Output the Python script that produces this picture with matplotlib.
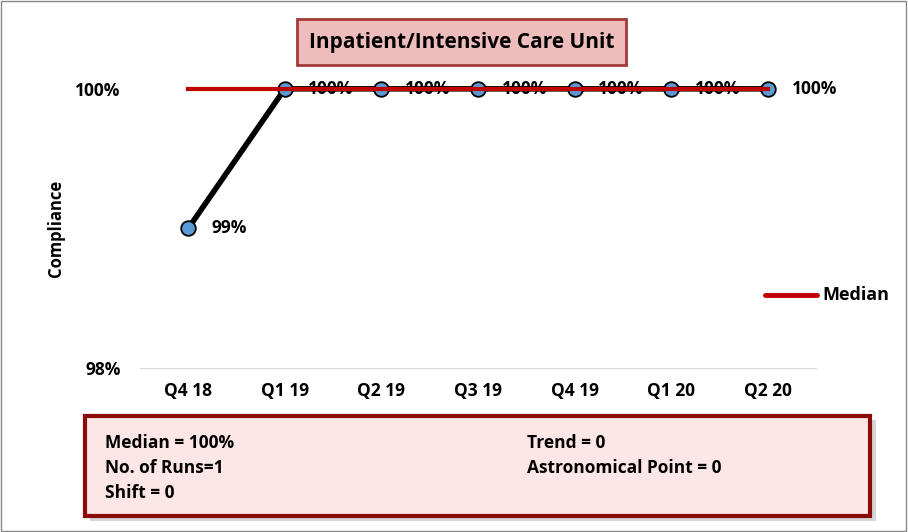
import matplotlib.pyplot as plt
from matplotlib.patches import Rectangle

quarters = ['Q4 18', 'Q1 19', 'Q2 19', 'Q3 19', 'Q4 19', 'Q1 20', 'Q2 20']
compliance = [99, 100, 100, 100, 100, 100, 100]
median = [100, 100, 100, 100, 100, 100, 100]
point_labels = ['99%', '100%', '100%', '100%', '100%', '100%', '100%']
y_ticks = [98, 100]
y_tick_labels = ['98%', '100%']
stats_left = ['Median = 100%', 'No. of Runs=1', 'Shift = 0']
stats_right = ['Trend = 0', 'Astronomical Point = 0']

plt.rcParams['font.family'] = ['Open Sans', 'DejaVu Sans']
plt.rcParams['font.weight'] = 'bold'

fig = plt.figure(figsize=(9.08, 5.32), dpi=100)
ax = fig.add_axes([0.154, 0.308, 0.745, 0.525])

x = list(range(len(quarters)))
ax.plot(x, compliance, color='black', lw=4, zorder=4, clip_on=False)
ax.plot(x, compliance, 'o', ms=10.5, mfc='#5b9bd5', mec='black', mew=1.3, zorder=5, clip_on=False)
ax.plot(x, median, color='#c00000', lw=3, zorder=7, clip_on=False)
for xi, yi, lab in zip(x, compliance, point_labels):
    ax.annotate(lab, (xi, yi), xytext=(17, 0), textcoords='offset points',
                ha='left', va='center', fontsize=12.5, fontweight='bold', zorder=6)

ax.set_xlim(-0.5, len(quarters) - 0.5)
ax.set_ylim(98, 100)
ax.set_xticks(x)
ax.set_xticklabels(quarters, fontsize=12.5, fontweight='bold')
ax.set_yticks(y_ticks)
ax.set_yticklabels(y_tick_labels, fontsize=12.5, fontweight='bold')
ax.tick_params(length=0, pad=10)
ax.tick_params(axis='y', pad=14)
for s in ax.spines.values():
    s.set_visible(False)
ax.spines['bottom'].set_visible(True)
ax.spines['bottom'].set_color('#d9d9d9')
ax.set_ylabel('Compliance', fontsize=12, fontweight='bold', labelpad=7)

# legend
fig.add_artist(plt.Line2D([0.843, 0.900], [0.445, 0.445], color='#c00000', lw=3.5,
                          solid_capstyle='round'))
fig.text(0.906, 0.445, 'Median', fontsize=13, fontweight='bold', va='center')

# title box
fig.add_artist(Rectangle((0.327, 0.878), 0.362, 0.087, transform=fig.transFigure,
                         facecolor='#efbcbc', edgecolor='#a33a3a', lw=2))
fig.text(0.508, 0.921, 'Inpatient/Intensive Care Unit', fontsize=15, fontweight='bold',
         ha='center', va='center')

# stats box with shadow
fig.add_artist(Rectangle((0.099, 0.020), 0.866, 0.190, transform=fig.transFigure,
                         facecolor='#bbbbbb', edgecolor='none', alpha=0.6))
fig.add_artist(Rectangle((0.094, 0.030), 0.864, 0.188, transform=fig.transFigure,
                         facecolor='#fde6e6', edgecolor='#8b0a0a', lw=3))
for i, t in enumerate(stats_left):
    fig.text(0.116, 0.167 - i * 0.047, t, fontsize=12.5, fontweight='bold', va='center')
for i, t in enumerate(stats_right):
    fig.text(0.580, 0.167 - i * 0.047, t, fontsize=12.5, fontweight='bold', va='center')

# outer frame
fig.add_artist(Rectangle((0.001, 0.002), 0.997, 0.996, transform=fig.transFigure,
                         facecolor='none', edgecolor='#888888', lw=1))

fig.savefig('out.png', dpi=100)
